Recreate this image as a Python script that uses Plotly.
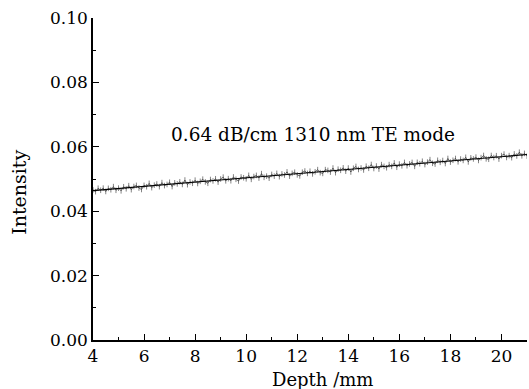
import plotly.graph_objects as go

depth_start = 4.0
depth_step = 0.1
intensity = [
    0.04660, 0.04607, 0.04713, 0.04650, 0.04716, 0.04613, 0.04710, 0.04666, 0.04763, 0.04649,
    0.04716, 0.04633, 0.04759, 0.04696, 0.04792, 0.04669, 0.04766, 0.04802, 0.04719, 0.04675,
    0.04802, 0.04759, 0.04865, 0.04732, 0.04808, 0.04845, 0.04762, 0.04888, 0.04795, 0.04831,
    0.04898, 0.04765, 0.04881, 0.04848, 0.04914, 0.04831, 0.04968, 0.04824, 0.04911, 0.04867,
    0.04964, 0.04861, 0.04927, 0.04994, 0.04910, 0.04867, 0.04984, 0.04940, 0.05007, 0.04903,
    0.05000, 0.05057, 0.04943, 0.05010, 0.04946, 0.05063, 0.04990, 0.04936, 0.05063, 0.05039,
    0.05006, 0.05113, 0.04989, 0.05076, 0.05112, 0.05029, 0.05166, 0.05052, 0.05089, 0.05025,
    0.05142, 0.05089, 0.05175, 0.05072, 0.05158, 0.05125, 0.05222, 0.05088, 0.05175, 0.05211,
    0.05128, 0.05095, 0.05211, 0.05248, 0.05174, 0.05241, 0.05158, 0.05224, 0.05291, 0.05197,
    0.05174, 0.05291, 0.05267, 0.05214, 0.05340, 0.05197, 0.05304, 0.05270, 0.05347, 0.05243,
    0.05340, 0.05217, 0.05333, 0.05390, 0.05296, 0.05343, 0.05280, 0.05396, 0.05333, 0.05449,
    0.05326, 0.05403, 0.05309, 0.05446, 0.05392, 0.05349, 0.05446, 0.05392, 0.05499, 0.05365,
    0.05462, 0.05409, 0.05515, 0.05412, 0.05468, 0.05515, 0.05392, 0.05518, 0.05475, 0.05551,
    0.05448, 0.05525, 0.05601, 0.05488, 0.05464, 0.05581, 0.05518, 0.05574, 0.05481, 0.05637,
    0.05524, 0.05581, 0.05637, 0.05534, 0.05620, 0.05577, 0.05674, 0.05530, 0.05657, 0.05623,
    0.05680, 0.05577, 0.05663, 0.05730, 0.05626, 0.05613, 0.05730, 0.05666, 0.05723, 0.05619,
    0.05726, 0.05773, 0.05669, 0.05726, 0.05662, 0.05779, 0.05716, 0.05832, 0.05719, 0.05795,
    0.05712,
]
depth = [round(depth_start + depth_step * i, 1) for i in range(len(intensity))]

fit_x = [4.0, 21.0]
fit_y = [0.0464, 0.0576]

label_text = "0.64 dB/cm 1310 nm TE mode"
x_title = "Depth /mm"
y_title = "Intensity"

FONT = "DejaVu Serif"

fig = go.Figure()
fig.add_trace(go.Scatter(x=depth, y=intensity, mode="lines+markers",
                         line=dict(color="#333333", width=0.7),
                         marker=dict(symbol="line-ns-open", size=4,
                                     line=dict(color="#555555", width=0.6)),
                         showlegend=False))
fig.add_trace(go.Scatter(x=fit_x, y=fit_y, mode="lines",
                         line=dict(color="black", width=1.1), showlegend=False))

fig.add_annotation(x=12.6, y=0.0637, text=label_text, showarrow=False,
                   font=dict(family=FONT, size=18.5, color="black"))

# axis titles as annotations for exact placement
fig.add_annotation(xref="x", yref="paper", x=13.0, y=0, yanchor="middle", yshift=-39,
                   text=x_title, showarrow=False,
                   font=dict(family=FONT, size=18, color="black"))
fig.add_annotation(xref="paper", yref="y", x=0, y=0.0457, xanchor="center", xshift=-74,
                   text=y_title, textangle=-90, showarrow=False,
                   font=dict(family=FONT, size=19, color="black"))

axis_common = dict(
    showline=True, linecolor="black", linewidth=1.5, mirror=False,
    ticks="inside", ticklen=6, tickwidth=1.2, tickcolor="black",
    showgrid=False, zeroline=False,
    tickfont=dict(family=FONT, size=17, color="black"),
)

fig.update_xaxes(range=[4, 21], dtick=2, tick0=4,
                 minor=dict(ticks="inside", ticklen=3, dtick=1, tickcolor="black", tickwidth=1),
                 **axis_common)
fig.update_yaxes(range=[0, 0.10], dtick=0.02, tick0=0, tickformat=".2f",
                 minor=dict(ticks="inside", ticklen=3, dtick=0.01, tickcolor="black", tickwidth=1),
                 **axis_common)

fig.update_layout(
    width=529, height=389,
    margin=dict(l=93, r=2, t=18, b=49),
    paper_bgcolor="white", plot_bgcolor="white",
)

fig.write_html("out.html", config={"displayModeBar": False},
               post_script="document.body.style.margin='0px';")
